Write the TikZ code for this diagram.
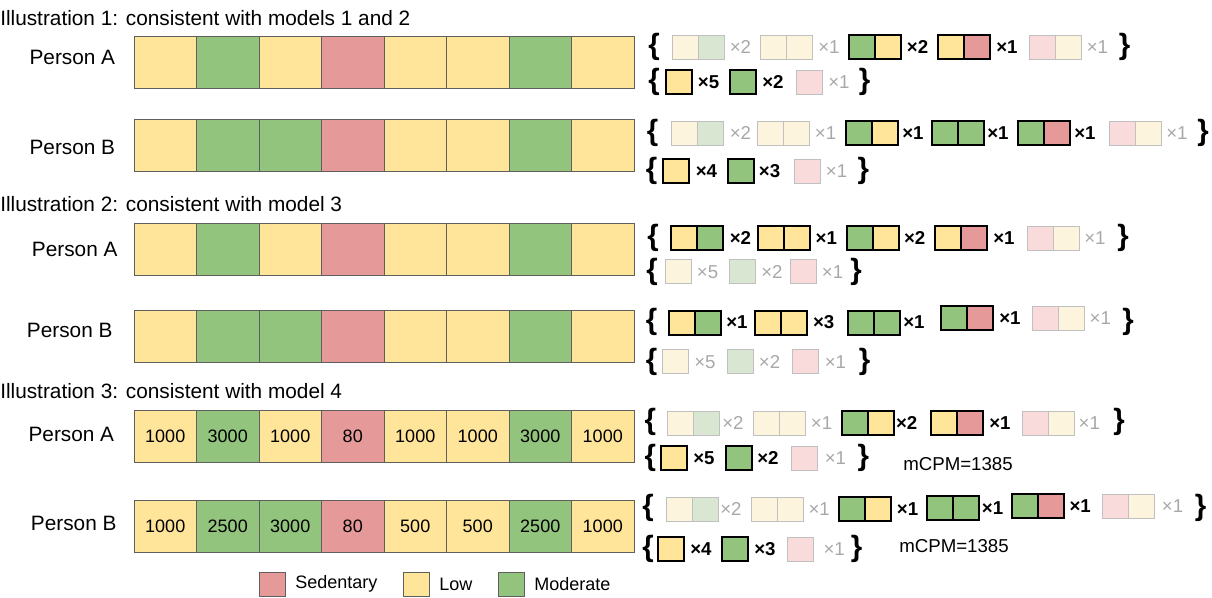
\documentclass[tikz,border=0pt]{standalone}
\usepackage{fontspec}
\setmainfont{Liberation Sans}
\usetikzlibrary{positioning}

\definecolor{sed}{HTML}{E69999}
\definecolor{low}{HTML}{FFE599}
\definecolor{mod}{HTML}{93C47D}
\definecolor{fsed}{HTML}{F8DBDA}
\definecolor{flow}{HTML}{FDF4DD}
\definecolor{fmod}{HTML}{D9E6D1}
\definecolor{cellline}{HTML}{5F5F5F}
\definecolor{fadeline}{HTML}{C0C0C0}
\definecolor{fadetext}{HTML}{A8A8A8}

\begin{document}
\begin{tikzpicture}[x=0.75pt,y=-0.75pt]
	\tikzset{cell/.style = {draw=cellline, line width=0.6pt, minimum width=46.875pt, minimum height=39pt, inner sep=0pt, outer sep=0pt, font=\fontsize{13.5}{16}\selectfont},
		sqb/.style = {draw=black, line width=1.5pt, minimum width=19.5pt, minimum height=18pt, inner sep=0pt, outer sep=0pt},
		sqf/.style = {draw=fadeline, line width=0.6pt, minimum width=19.5pt, minimum height=18pt, inner sep=0pt, outer sep=0pt},
		cntb/.style = {inner sep=0pt, anchor=west, font=\fontsize{14}{16}\selectfont\bfseries},
		cntf/.style = {inner sep=0pt, anchor=west, text=fadetext, font=\fontsize{14}{16}\selectfont},
		brace/.style = {inner sep=0pt, anchor=west, font=\fontsize{22}{22}\selectfont\bfseries},
		heading/.style = {inner sep=0pt, anchor=base west, font=\fontsize{15.6}{18}\selectfont},
		note/.style = {inner sep=0pt, anchor=base west, font=\fontsize{14}{16}\selectfont},
		legsq/.style = {draw=cellline, line width=0.6pt, minimum width=19.5pt, minimum height=18pt, inner sep=0pt, outer sep=0pt, anchor=north west},
		legtext/.style = {inner sep=0pt, font=\fontsize{13.5}{16}\selectfont}}

	\useasboundingbox (0,0) rectangle (1212,597);

	% headings and people
	\node[heading] (t1) at (0,25.7) {Illustration 1: consistent with models 1 and 2};
	\node[heading] (t2) at (0,211.7) {Illustration 2: consistent with model 3};
	\node[heading] (t3) at (0,398.3) {Illustration 3: consistent with model 4};

	\node[heading] (p1a) at (29.3,64.3) {Person A};
	\node[heading] (p1b) at (29.3,154) {Person B};
	\node[heading] (p2a) at (31.7,256.7) {Person A};
	\node[heading] (p2b) at (26.7,337.7) {Person B};
	\node[heading] (p3a) at (28.3,441.7) {Person A};
	\node[heading] (p3b) at (30.7,530.7) {Person B};

	% activity sequences
	\foreach \c [count=\i] in {low,mod,low,sed,low,low,mod,low}
		\node[cell, fill=\c] (a1-\i) at ({165.25+62.5*(\i-1)},62) {};
	\foreach \c [count=\i] in {low,mod,mod,sed,low,low,mod,low}
		\node[cell, fill=\c] (b1-\i) at ({165.25+62.5*(\i-1)},145) {};
	\foreach \c [count=\i] in {low,mod,low,sed,low,low,mod,low}
		\node[cell, fill=\c] (a2-\i) at ({165.25+62.5*(\i-1)},249.5) {};
	\foreach \c [count=\i] in {low,mod,mod,sed,low,low,mod,low}
		\node[cell, fill=\c] (b2-\i) at ({165.25+62.5*(\i-1)},336) {};
	\foreach \c/\v [count=\i] in {low/1000,mod/3000,low/1000,sed/80,low/1000,low/1000,mod/3000,low/1000}
		\node[cell, fill=\c] (a3-\i) at ({165.25+62.5*(\i-1)},436.7) {\v};
	\foreach \c/\v [count=\i] in {low/1000,mod/2500,mod/3000,sed/80,low/500,low/500,mod/2500,low/1000}
		\node[cell, fill=\c] (b3-\i) at ({165.25+62.5*(\i-1)},526.7) {\v};

	% transition pairs
	\foreach \x/\y/\a/\b/\s/\n/\lx [count=\k] in {672/47/flow/fmod/f/2/729.5, 760.6/47/flow/flow/f/1/818,
		849/47/mod/low/b/2/906.7, 937.8/47/low/sed/b/1/996, 1029/47/fsed/flow/f/1/1086.5}{
		\node[sq\s, fill=\a, anchor=west] (q1a-\k l) at (\x,\y) {};
		\node[sq\s, fill=\b, right=0pt of q1a-\k l] (q1a-\k r) {};
		\node[cnt\s] (q1a-\k n) at (\lx,\y) {×\n};
	}
	\foreach \x/\y/\a/\b/\s/\n/\lx [count=\k] in {671/133.3/flow/fmod/f/2/729.5, 757/133.3/flow/flow/f/1/814.6,
		846.4/133.3/mod/low/b/1/902, 932/133.3/mod/mod/b/1/987, 1018/133.3/mod/sed/b/1/1074,
		1109.5/133.3/fsed/flow/f/1/1166}{
		\node[sq\s, fill=\a, anchor=west] (q1b-\k l) at (\x,\y) {};
		\node[sq\s, fill=\b, right=0pt of q1b-\k l] (q1b-\k r) {};
		\node[cnt\s] (q1b-\k n) at (\lx,\y) {×\n};
	}
	\foreach \x/\y/\a/\b/\s/\n/\lx [count=\k] in {671/238/low/mod/b/2/729.5, 758/238/low/low/b/1/815.4,
		847/238/mod/low/b/2/903.8, 935/238/low/sed/b/1/993, 1027/238/fsed/flow/f/1/1084}{
		\node[sq\s, fill=\a, anchor=west] (q2a-\k l) at (\x,\y) {};
		\node[sq\s, fill=\b, right=0pt of q2a-\k l] (q2a-\k r) {};
		\node[cnt\s] (q2a-\k n) at (\lx,\y) {×\n};
	}
	\foreach \x/\y/\a/\b/\s/\n/\lx [count=\k] in {669/322.5/low/mod/b/1/726, 755/322.5/low/low/b/3/812.8,
		847.5/322.5/mod/mod/b/1/903, 941.4/318.3/mod/sed/b/1/999, 1032.8/318.3/fsed/flow/f/1/1089.4}{
		\node[sq\s, fill=\a, anchor=west] (q2b-\k l) at (\x,\y) {};
		\node[sq\s, fill=\b, right=0pt of q2b-\k l] (q2b-\k r) {};
		\node[cnt\s] (q2b-\k n) at (\lx,\y) {×\n};
	}
	\foreach \x/\y/\a/\b/\s/\n/\lx [count=\k] in {667.4/423.3/flow/fmod/f/2/722, 753/423.3/flow/flow/f/1/810.6,
		842/423.3/mod/low/b/2/895.8, 931/423.3/low/sed/b/1/989, 1022.5/423.3/fsed/flow/f/1/1078.4}{
		\node[sq\s, fill=\a, anchor=west] (q3a-\k l) at (\x,\y) {};
		\node[sq\s, fill=\b, right=0pt of q3a-\k l] (q3a-\k r) {};
		\node[cnt\s] (q3a-\k n) at (\lx,\y) {×\n};
	}
	\foreach \x/\y/\a/\b/\s/\n/\lx [count=\k] in {666/509/flow/fmod/f/2/720, 751/509/flow/flow/f/1/808.3,
		839.3/509/mod/low/b/1/896.7, 927.3/508/mod/mod/b/1/981.7, 1011.7/506/mod/sed/b/1/1069.3,
		1102.7/506/fsed/flow/f/1/1161.7}{
		\node[sq\s, fill=\a, anchor=west] (q3b-\k l) at (\x,\y) {};
		\node[sq\s, fill=\b, right=0pt of q3b-\k l] (q3b-\k r) {};
		\node[cnt\s] (q3b-\k n) at (\lx,\y) {×\n};
	}

	% single levels
	\foreach \x/\y/\a/\s/\n/\lx [count=\k] in {665.6/82/low/b/5/697.7, 730/82/mod/b/2/762, 796/82/fsed/f/1/828}{
		\node[sq\s, fill=\a, anchor=west] (s1a-\k) at (\x,\y) {};
		\node[cnt\s] (s1a-\k n) at (\lx,\y) {×\n};
	}
	\foreach \x/\y/\a/\s/\n/\lx [count=\k] in {663/171.3/low/b/4/695.5, 728.4/171.3/mod/b/3/758.7, 794/171.3/fsed/f/1/825.6}{
		\node[sq\s, fill=\a, anchor=west] (s1b-\k) at (\x,\y) {};
		\node[cnt\s] (s1b-\k n) at (\lx,\y) {×\n};
	}
	\foreach \x/\y/\a/\s/\n/\lx [count=\k] in {665/271.7/flow/f/5/696.6, 729.5/271.7/fmod/f/2/761, 790/271.7/fsed/f/1/821.6}{
		\node[sq\s, fill=\a, anchor=west] (s2a-\k) at (\x,\y) {};
		\node[cnt\s] (s2a-\k n) at (\lx,\y) {×\n};
	}
	\foreach \x/\y/\a/\s/\n/\lx [count=\k] in {662.6/361.7/flow/f/5/694, 727.7/361.7/fmod/f/2/758.7, 792.7/361.7/fsed/f/1/824.5}{
		\node[sq\s, fill=\a, anchor=west] (s2b-\k) at (\x,\y) {};
		\node[cnt\s] (s2b-\k n) at (\lx,\y) {×\n};
	}
	\foreach \x/\y/\a/\s/\n/\lx [count=\k] in {661/458.3/low/b/5/693, 726/458.3/mod/b/2/757, 791.6/458.3/fsed/f/1/824.5}{
		\node[sq\s, fill=\a, anchor=west] (s3a-\k) at (\x,\y) {};
		\node[cnt\s] (s3a-\k n) at (\lx,\y) {×\n};
	}
	\foreach \x/\y/\a/\s/\n/\lx [count=\k] in {658.3/549/low/b/4/690, 722.3/549/mod/b/3/754, 787.7/549/fsed/f/1/823.3}{
		\node[sq\s, fill=\a, anchor=west] (s3b-\k) at (\x,\y) {};
		\node[cnt\s] (s3b-\k n) at (\lx,\y) {×\n};
	}

	% braces round each set
	\node[brace] (o1a) at (648,47) {\{};       \node[brace] (c1a) at (1118.6,47) {\}};
	\node[brace] (o1a2) at (648,82) {\{};      \node[brace] (c1a2) at (858.5,82) {\}};
	\node[brace] (o1b) at (646.6,133.3) {\{};  \node[brace] (c1b) at (1197,133.3) {\}};
	\node[brace] (o1b2) at (645.5,171.3) {\{}; \node[brace] (c1b2) at (857.4,171.3) {\}};
	\node[brace] (o2a) at (647,238) {\{};      \node[brace] (c2a) at (1117,238) {\}};
	\node[brace] (o2a2) at (646,271.7) {\{};   \node[brace] (c2a2) at (850,271.7) {\}};
	\node[brace] (o2b) at (645.5,322) {\{};    \node[brace] (c2b) at (1122,322) {\}};
	\node[brace] (o2b2) at (645.5,361.7) {\{}; \node[brace] (c2b2) at (858.5,361.7) {\}};
	\node[brace] (o3a) at (644.4,421.7) {\{};  \node[brace] (c3a) at (1113,421.7) {\}};
	\node[brace] (o3a2) at (644.4,458.3) {\{}; \node[brace] (c3a2) at (857.4,458.3) {\}};
	\node[brace] (o3b) at (642,508) {\{};      \node[brace] (c3b) at (1194.6,508) {\}};
	\node[brace] (o3b2) at (642,549) {\{};     \node[brace] (c3b2) at (850.7,549) {\}};

	\node[note] (m3a) at (903,470.7) {mCPM=1385};
	\node[note] (m3b) at (899,552.7) {mCPM=1385};

	% legend
	\node[legsq, fill=sed] (lsed) at (259,572) {};
	\node[legtext, right=7.5pt of lsed] (tsed) {Sedentary};
	\node[legsq, fill=low] (llow) at (403,572) {};
	\node[legtext, right=7.5pt of llow] (tlow) {Low};
	\node[legsq, fill=mod] (lmod) at (498,572) {};
	\node[legtext, right=7.5pt of lmod] (tmod) {Moderate};

\end{tikzpicture}
\end{document}
